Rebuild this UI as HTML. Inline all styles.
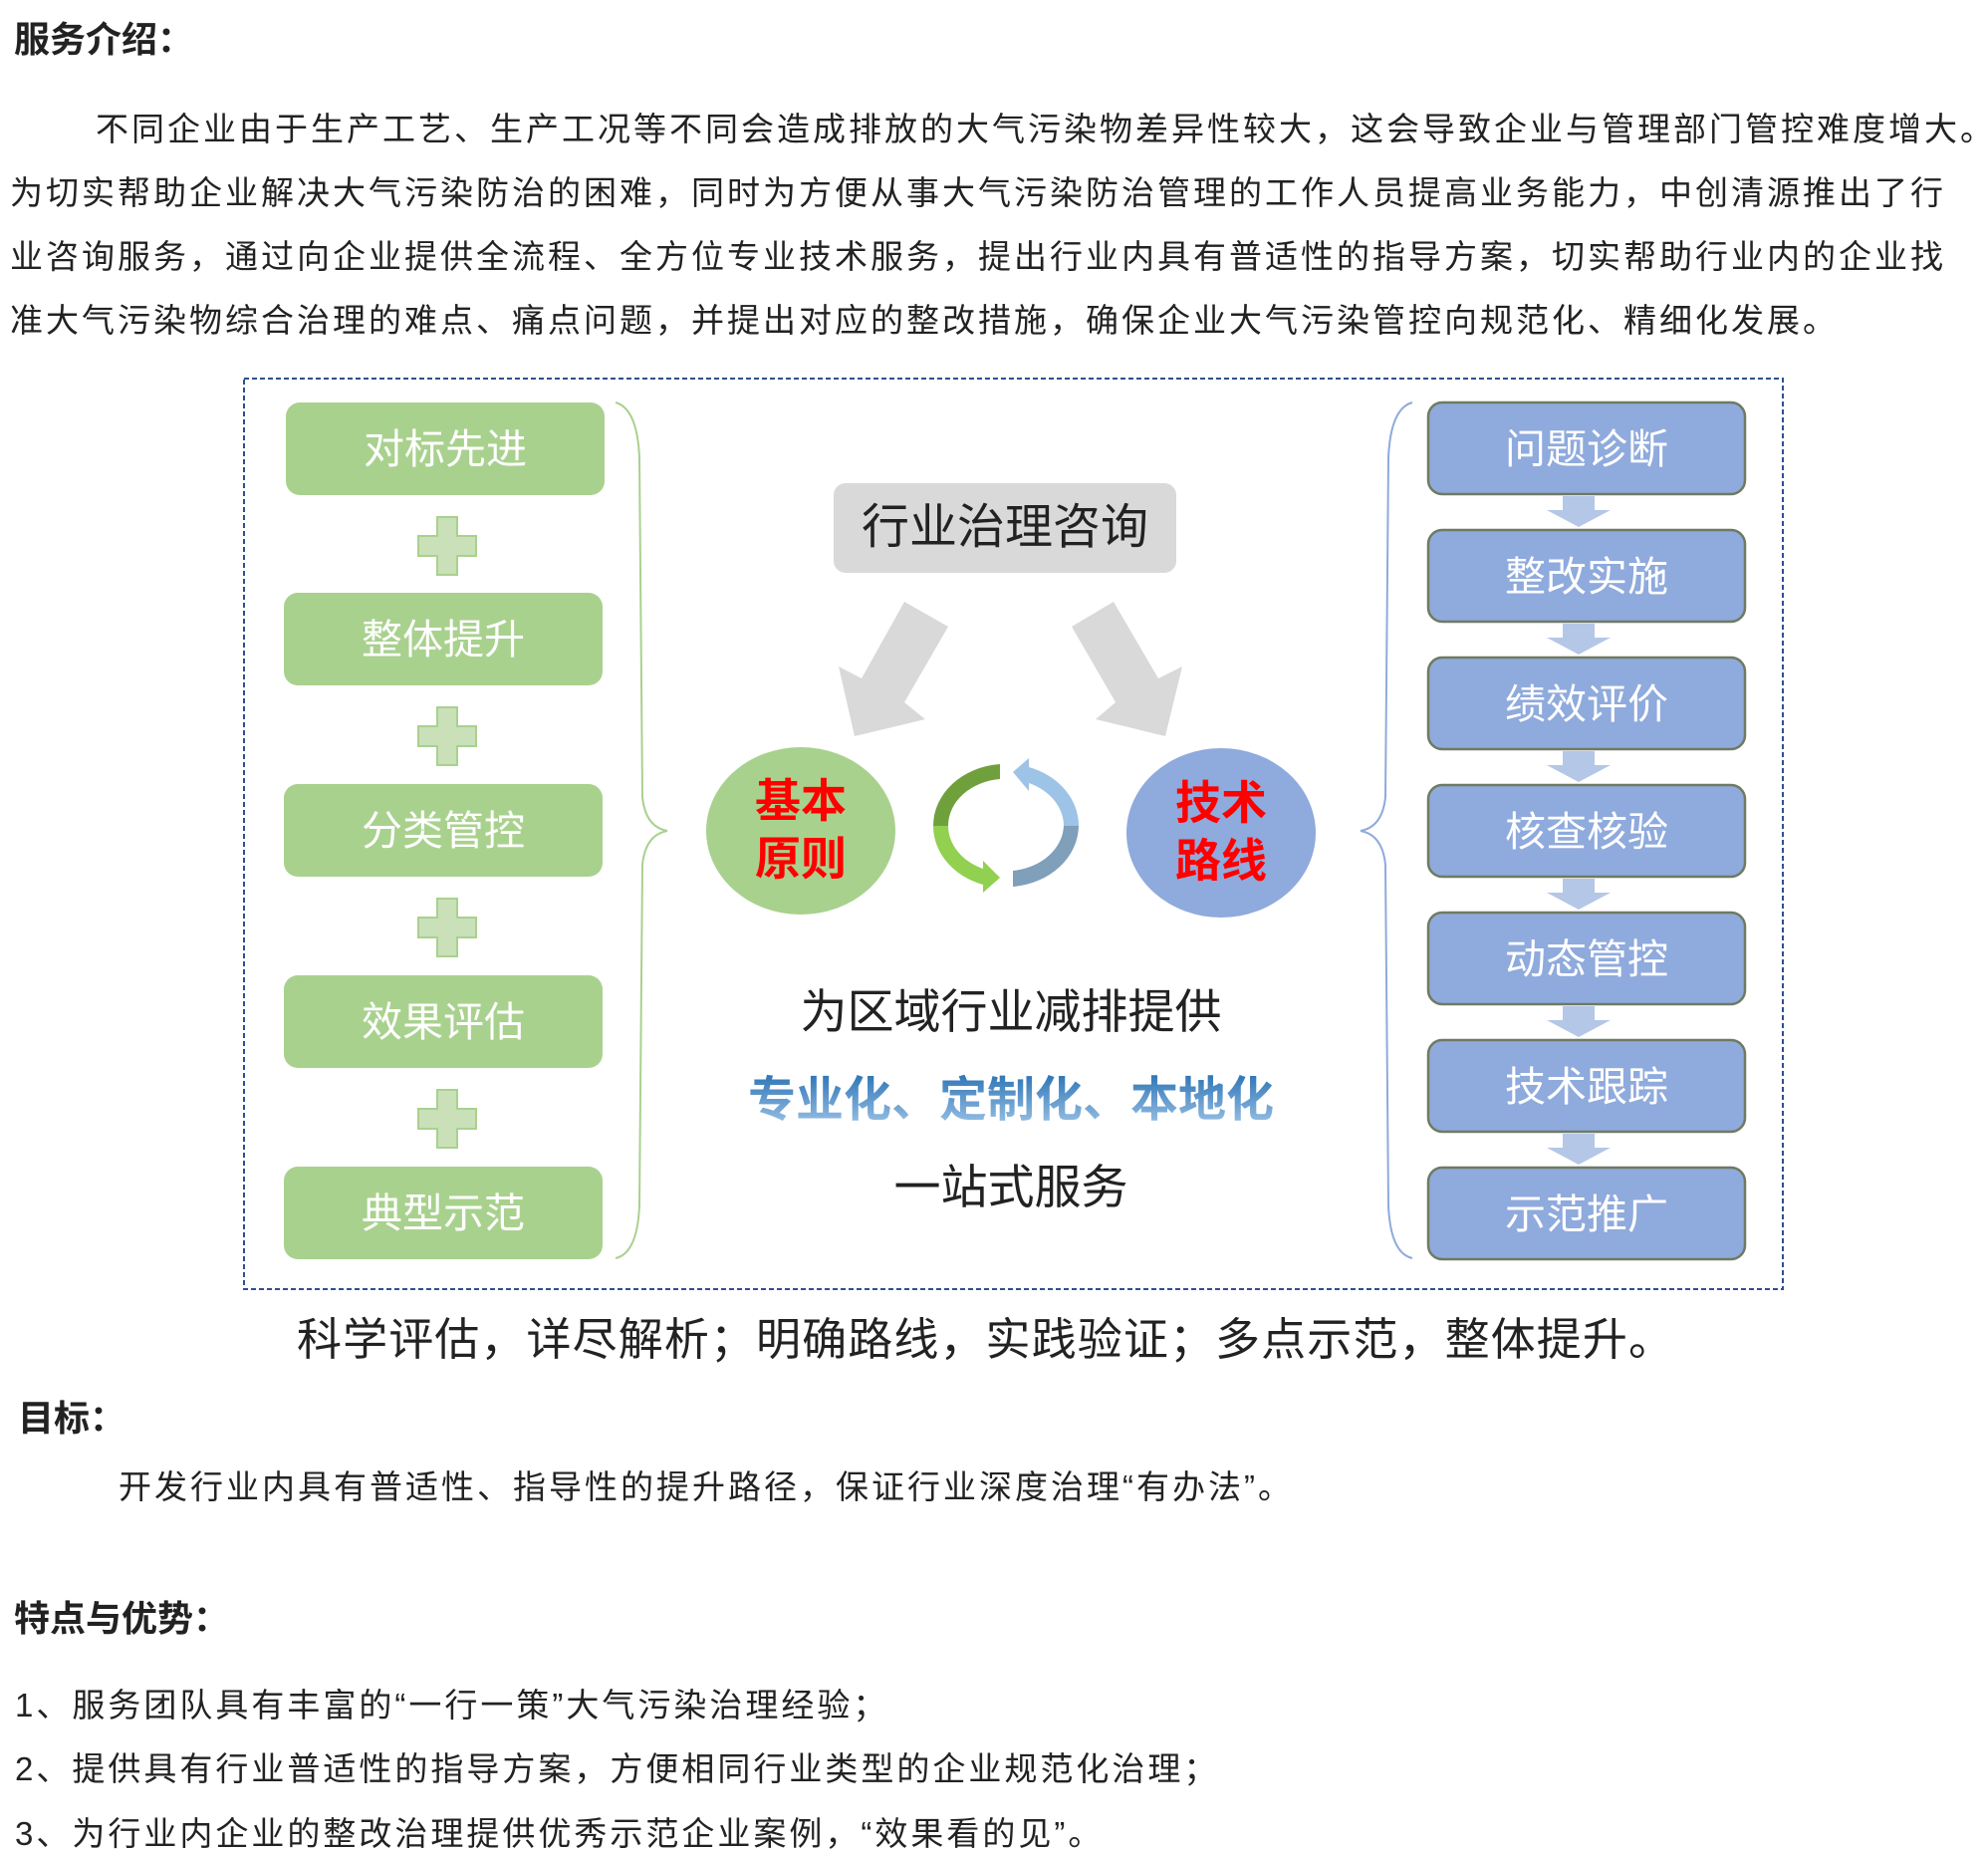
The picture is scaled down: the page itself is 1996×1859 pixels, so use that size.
<!DOCTYPE html>
<html><head><meta charset="utf-8"><style>
body{margin:0;width:1996px;height:1858px;background:#fff;position:relative;overflow:hidden;font-family:"Liberation Sans","Noto Sans CJK SC",sans-serif;color:#222}
.t{position:absolute;white-space:nowrap;line-height:1}
.h{font-weight:bold;font-size:36px}
.p{font-size:33px;letter-spacing:3px}
svg{position:absolute;left:0;top:0}
</style></head><body>
<div class="t h" style="left:14px;top:22px">服务介绍：</div>
<div class="t p" style="left:96px;top:113px">不同企业由于生产工艺、生产工况等不同会造成排放的大气污染物差异性较大，这会导致企业与管理部门管控难度增大。</div>
<div class="t p" style="left:10px;top:177px">为切实帮助企业解决大气污染防治的困难，同时为方便从事大气污染防治管理的工作人员提高业务能力，中创清源推出了行</div>
<div class="t p" style="left:10px;top:241px">业咨询服务，通过向企业提供全流程、全方位专业技术服务，提出行业内具有普适性的指导方案，切实帮助行业内的企业找</div>
<div class="t p" style="left:10px;top:305px">准大气污染物综合治理的难点、痛点问题，并提出对应的整改措施，确保企业大气污染管控向规范化、精细化发展。</div>

<svg width="1996" height="1858" font-family="Liberation Sans,Noto Sans CJK SC,sans-serif">
<defs>
<linearGradient id="bg" x1="0" y1="0" x2="0" y2="1"><stop offset="0" stop-color="#2e75b6"/><stop offset="1" stop-color="#9dc3e6"/></linearGradient>
</defs>
<rect x="245" y="380" width="1545" height="914" fill="none" stroke="#2f4f8f" stroke-width="2" stroke-dasharray="5,3"/>
<!-- green boxes -->
<g fill="#a9d18e">
<rect x="287" y="404" width="320" height="93" rx="14"/>
<rect x="285" y="595" width="320" height="93" rx="14"/>
<rect x="285" y="787" width="320" height="93" rx="14"/>
<rect x="285" y="979" width="320" height="93" rx="14"/>
<rect x="285" y="1171" width="320" height="93" rx="14"/>
</g>
<g fill="#fff" font-size="41" text-anchor="middle">
<text x="447" y="465">对标先进</text><text x="445" y="656">整体提升</text><text x="445" y="848">分类管控</text><text x="445" y="1040">效果评估</text><text x="445" y="1232">典型示范</text>
</g>
<g fill="#c9e0b8" stroke="#a9d18e" stroke-width="2">
<path id="pl" d="M-10,-29h20v19h19v20h-19v19h-20v-19h-19v-20h19z" transform="translate(449,548)"/>
<use href="#pl" transform="translate(0,191)"/><use href="#pl" transform="translate(0,383)"/><use href="#pl" transform="translate(0,575)"/>
</g>
<!-- braces -->
<path d="M618,404 Q640,410 642,460 L645,800 Q648,830 670,834 Q648,838 645,868 L642,1210 Q640,1258 618,1263" fill="none" stroke="#a9d18e" stroke-width="2"/>
<path d="M1418,404 Q1396,410 1394,460 L1391,800 Q1388,830 1366,834 Q1388,838 1391,868 L1394,1210 Q1396,1258 1418,1263" fill="none" stroke="#8faadc" stroke-width="2"/>
<!-- consult -->
<rect x="837" y="485" width="344" height="90" rx="12" fill="#d9d9d9"/>
<text x="1009" y="545" font-size="48" text-anchor="middle" fill="#222">行业治理咨询</text>
<polygon points="908,604 952,629 908,705 929,722 858,739 842,669 865,681" fill="#d9d9d9"/>
<polygon points="1118,604 1076,629 1120,705 1100,722 1170,739 1187,669 1163,681" fill="#d9d9d9"/>
<!-- circles -->
<ellipse cx="804" cy="834" rx="95" ry="84" fill="#a9d18e"/>
<ellipse cx="1226" cy="836" rx="95" ry="85" fill="#8faadc"/>
<g fill="#ff0000" font-size="46" font-weight="bold" text-anchor="middle">
<text x="804" y="820">基本</text><text x="804" y="878">原则</text>
<text x="1226" y="822">技术</text><text x="1226" y="880">路线</text>
</g>
<!-- cycle -->
<path d="M1004,767 A73,62 0 0 0 937,829 L952,829 A58,47 0 0 1 1004,782 Z" fill="#70a03c"/>
<path d="M937,829 A73,62 0 0 0 987,888 L987,896 L1004,881 L987,864 L987,872 A58,47 0 0 1 952,829 Z" fill="#92d050"/>
<path d="M1083,829 A73,62 0 0 0 1033,770 L1033,761 L1017,775 L1033,794 L1033,786 A58,47 0 0 1 1068,829 Z" fill="#9dc3e6"/>
<path d="M1083,829 A73,62 0 0 1 1017,890 L1017,874 A58,47 0 0 0 1068,829 Z" fill="#7f9fba"/>
<!-- center texts -->
<text x="1015" y="1032" font-size="47" text-anchor="middle" fill="#222">为区域行业减排提供</text>
<text x="1015" y="1120" font-size="48" font-weight="bold" text-anchor="middle" fill="url(#bg)">专业化、定制化、本地化</text>
<text x="1015" y="1208" font-size="47" text-anchor="middle" fill="#222">一站式服务</text>
<!-- blue boxes -->
<g fill="#8faadc" stroke="#6f7a63" stroke-width="2.5">
<rect x="1434" y="404" width="318" height="92" rx="14"/><rect x="1434" y="532" width="318" height="92" rx="14"/><rect x="1434" y="660" width="318" height="92" rx="14"/><rect x="1434" y="788" width="318" height="92" rx="14"/><rect x="1434" y="916" width="318" height="92" rx="14"/><rect x="1434" y="1044" width="318" height="92" rx="14"/><rect x="1434" y="1172" width="318" height="92" rx="14"/>
</g>
<g fill="#fff" font-size="41" text-anchor="middle">
<text x="1593" y="465">问题诊断</text><text x="1593" y="593">整改实施</text><text x="1593" y="721">绩效评价</text><text x="1593" y="849">核查核验</text><text x="1593" y="977">动态管控</text><text x="1593" y="1105">技术跟踪</text><text x="1593" y="1233">示范推广</text>
</g>
<g fill="#b4c7e7">
<path id="da" d="M-16,0h32v14h16l-32,17l-32,-17h16z" transform="translate(1585,498)"/>
<use href="#da" transform="translate(0,128)"/><use href="#da" transform="translate(0,256)"/><use href="#da" transform="translate(0,384)"/><use href="#da" transform="translate(0,512)"/><use href="#da" transform="translate(0,640)"/>
</g>
<text x="298" y="1360" font-size="45" fill="#222" textLength="1382">科学评估，详尽解析；明确路线，实践验证；多点示范，整体提升。</text>
</svg>

<div class="t h" style="left:18px;top:1406px">目标：</div>
<div class="t p" style="left:119px;top:1476px">开发行业内具有普适性、指导性的提升路径，保证行业深度治理“有办法”。</div>
<div class="t h" style="left:14px;top:1607px">特点与优势：</div>
<div class="t p" style="left:15px;top:1695px">1、服务团队具有丰富的“一行一策”大气污染治理经验；</div>
<div class="t p" style="left:15px;top:1759px">2、提供具有行业普适性的指导方案，方便相同行业类型的企业规范化治理；</div>
<div class="t p" style="left:15px;top:1824px">3、为行业内企业的整改治理提供优秀示范企业案例，“效果看的见”。</div>
</body></html>
